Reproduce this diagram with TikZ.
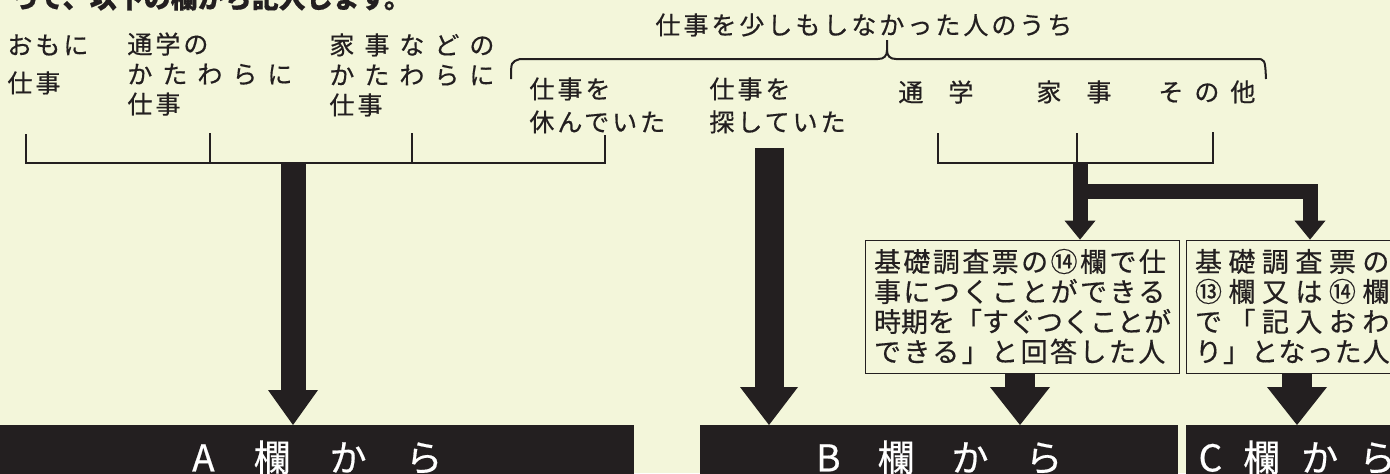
\documentclass[tikz,border=0pt]{standalone}
\usepackage{fontspec}
\newfontfamily\jp[FakeBold=0.5]{Noto Sans CJK JP}
\usepackage{xcolor}
\definecolor{Paper Cream}{HTML}{F3F6DA}
\definecolor{Print Black}{HTML}{231F20}
\colorlet{cPaper}{Paper Cream}
\colorlet{cInk}{Print Black}
\usetikzlibrary{arrows.meta}
\newcommand\ls[2]{{\addfontfeature{LetterSpace=#1}#2}}
\tikzset{
	line width = 1pt,
	txt/.style={
		inner sep=0pt,
		text=cInk,
		align=left,
		font=\jp\fontsize{12.5}{15}\selectfont\addfontfeature{LetterSpace=12}
	},
	lead/.style={
		inner sep=0pt,
		text=cInk,
		font=\jp\bfseries\fontsize{13.5}{16}\selectfont
	},
	note/.style={
		draw=cInk,
		inner xsep=4.5pt,
		inner ysep=0pt,
		minimum height=66.5pt,
		align=left,
		text=cInk,
		font=\jp\fontsize{13.5}{15}\selectfont
	},
	bar/.style={
		fill=cInk,
		text=white,
		inner sep=0pt,
		minimum height=32pt,
		anchor=north west,
		font=\jp\fontsize{18.5}{20}\selectfont
	},
	bracket/.style={
		draw=cInk,
		line width=1pt
	},
	fat/.style n args={3}{
		draw=cInk,
		line width=#1,
		-{Triangle[width=#2, length=#3, line width=0pt]}
	}
}

\begin{document}
\begin{tikzpicture}[x=0.5pt, y=-0.5pt]
	\useasboundingbox (0,0) rectangle (1390,473);
	\fill[cPaper] (0,0) rectangle (1390,473);

	\node[lead, anchor=base west] (nLead) at (11,8) {って、以下の欄から記入します。};

	% labels, left group
	\node[txt, anchor=north west] (nMain) at (7,34) {おもに\\[4pt]仕事};
	\node[txt, anchor=north west] (nSchoolSide) at (127,32) {通学の\\\ls{40}{かたわらに}\\仕事};
	\node[txt, anchor=north west] (nHouseSide) at (329,33) {\ls{40}{家事などの}\\\ls{40}{かたわらに}\\仕事};

	% labels, right group
	\node[txt, anchor=north west] (nNoWork) at (655,13) {仕事を少しもしなかった人のうち};
	\node[txt, anchor=north west] (nAbsent) at (529,77) {仕事を\\[1.5pt]休んでいた};
	\node[txt, anchor=north west] (nSeeking) at (709,77) {仕事を\\[1.5pt]探していた};
	\node[txt, anchor=north west] (nSchool) at (898,80) {\ls{0}{通　学}};
	\node[txt, anchor=north west] (nHouse) at (1036,80) {\ls{0}{家　事}};
	\node[txt, anchor=north west] (nOther) at (1158,80) {\ls{44}{その他}};

	% brackets
	\draw[bracket] (26,134) -- (26,163) -- (605,163) -- (605,135);
	\draw[bracket] (210,133) -- (210,163);
	\draw[bracket] (412,133) -- (412,163);
	\draw[bracket] (938,133) -- (938,163) -- (1213,163) -- (1213,132);
	\draw[bracket] (1077,133) -- (1077,163);
	\draw[bracket] (511,79) .. controls (511,62) .. (520,59) -- (878,59)
		.. controls (884,59) and (887,56) .. (887,50) -- (887,40);
	\draw[bracket] (887,50) .. controls (887,56) and (890,59) .. (896,59)
		-- (1256,59) .. controls (1265,59) .. (1266,79);

	% boxes
	\node[note, text width=148pt] (box14) at (1022,306.5) {%
		\ls{9}{基礎調査票の⑭欄で仕}\\
		\ls{9}{事につくことができる}\\
		\ls{0}{時期を「すぐつくことが}\\
		\ls{9}{できる」と回答した人}};
	\node[note, text width=102pt] (box13) at (1297,306.5) {%
		\ls{24}{基礎調査票の}\\
		\ls{24}{⑬欄又は⑭欄}\\
		\ls{24}{で「記入おわ}\\
		\ls{4}{り」となった人}};

	% bars
	\node[bar, minimum width=317pt] (barA) at (0,425) {A\hspace{19.5pt}欄\hspace{19.5pt}か\hspace{19.5pt}ら};
	\node[bar, minimum width=239pt] (barB) at (700,425) {B\hspace{18.5pt}欄\hspace{18.5pt}か\hspace{18.5pt}ら};
	\node[bar, minimum width=111pt] (barC) at (1186,425) {C\hspace{10.5pt}欄\hspace{10.5pt}か\hspace{10.5pt}ら};

	% arrows
	\coordinate (aTop) at (293,163);
	\coordinate (bTop) at (769,148);
	\coordinate (split) at (1080,163);
	\draw[fat={12.5pt}{25pt}{17.5pt}] (aTop) -- (aTop |- barA.north);
	\draw[fat={14.5pt}{29pt}{19pt}] (bTop) -- (bTop |- barB.north);
	\draw[fat={7.5pt}{15.5pt}{9.5pt}] (split) -- (split |- box14.north);
	\draw[fat={7.5pt}{15.5pt}{9.5pt}] (split) ++(0,28.5) -| ([xshift=6.5pt]box13.north);
	\draw[fat={15pt}{30pt}{19pt}] ([xshift=-1pt]box14.south) -- ([xshift=-1pt]box14.south |- barB.north);
	\draw[fat={15pt}{30pt}{19pt}] (box13.south) -- (box13.south |- barC.north);
\end{tikzpicture}
\end{document}
